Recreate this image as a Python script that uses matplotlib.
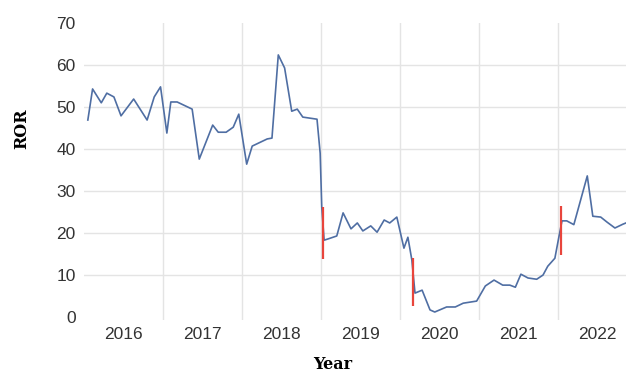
import numpy as np
import matplotlib.pyplot as plt
from matplotlib.ticker import FixedLocator, NullFormatter

# ROR series (x as decimal year)
years = [2016.05, 2016.11, 2016.22, 2016.29, 2016.38, 2016.47, 2016.63, 2016.80,
         2016.89, 2016.97, 2017.05, 2017.10, 2017.18, 2017.37, 2017.46, 2017.63,
         2017.70, 2017.80, 2017.89, 2017.96, 2018.06, 2018.13, 2018.32, 2018.38,
         2018.46, 2018.54, 2018.63, 2018.70, 2018.77, 2018.95, 2018.99, 2019.01,
         2019.04, 2019.09, 2019.20, 2019.28, 2019.38, 2019.46, 2019.53, 2019.63,
         2019.71, 2019.80, 2019.87, 2019.96, 2020.05, 2020.10, 2020.15, 2020.19,
         2020.28, 2020.38, 2020.44, 2020.59, 2020.70, 2020.80, 2020.97, 2021.08,
         2021.19, 2021.30, 2021.39, 2021.46, 2021.53, 2021.62, 2021.73, 2021.81,
         2021.87, 2021.96, 2022.01, 2022.05, 2022.11, 2022.20, 2022.37, 2022.44,
         2022.54, 2022.62, 2022.72, 2022.82, 2022.86]
ror = [46.9, 54.3, 51.0, 53.3, 52.4, 47.9, 51.9, 46.9,
       52.4, 54.8, 43.8, 51.2, 51.2, 49.5, 37.6, 45.7,
       44.0, 44.0, 45.2, 48.3, 36.4, 40.7, 42.4, 42.6,
       62.4, 59.3, 49.0, 49.5, 47.6, 47.1, 39.0, 26.2,
       18.3, 18.6, 19.3, 24.8, 21.0, 22.4, 20.5, 21.7,
       20.2, 23.1, 22.4, 23.8, 16.4, 19.0, 13.6, 5.7,
       6.4, 1.7, 1.2, 2.4, 2.4, 3.3, 3.8, 7.4,
       8.8, 7.6, 7.6, 7.1, 10.2, 9.3, 9.0, 10.0,
       12.1, 14.0, 19.0, 22.9, 22.9, 22.0, 33.6, 24.0,
       23.8, 22.6, 21.2, 22.1, 22.4]

# red break markers
break_x = [2019.02, 2020.17, 2022.04]
break_lo = [13.8, 2.6, 14.8]
break_hi = [26.2, 14.0, 26.4]

year_labels = ['2016', '2017', '2018', '2019', '2020', '2021', '2022']

fig = plt.figure(figsize=(6.26, 3.74), dpi=100)
ax = fig.add_axes([0.134, 0.1444, 0.866, 0.7941])

ax.plot(years, ror, color='#4f6ea3', lw=1.2)
ax.vlines(break_x, break_lo, break_hi, color='#e8453c', lw=1.6, zorder=3)

ax.set_xlim(2016.0, 2022.86)
ax.set_ylim(-0.7, 70)

ax.xaxis.set_major_locator(FixedLocator(np.arange(2017, 2023)))
ax.xaxis.set_major_formatter(NullFormatter())
ax.xaxis.set_minor_locator(FixedLocator(np.arange(2016, 2023) + 0.5))
ax.set_xticklabels(year_labels, minor=True)
ax.set_yticks(np.arange(0, 71, 10))

for lab in ax.get_xticklabels(minor=True) + ax.get_yticklabels():
    lab.set_family('Liberation Sans')
    lab.set_fontsize(12.5)
    lab.set_color('#333333')

ax.tick_params(which='both', length=0)
ax.tick_params(axis='y', pad=6)
ax.tick_params(axis='x', which='minor', pad=5)

ax.grid(True, which='major', color='#e4e4e4', lw=1.0)
gl = ax.get_ygridlines()
gl[0].set_visible(False)
gl[-1].set_visible(False)
ax.set_axisbelow(True)
for s in ax.spines.values():
    s.set_visible(False)

fig.text(0.532, 0.025, 'Year', family='DejaVu Serif', weight='bold',
         fontsize=11.5, ha='center', va='center')
fig.text(0.034, 0.655, 'ROR', family='DejaVu Serif', weight='bold',
         fontsize=11.5, rotation=90, ha='center', va='center')

fig.savefig('out.png', dpi=100)
